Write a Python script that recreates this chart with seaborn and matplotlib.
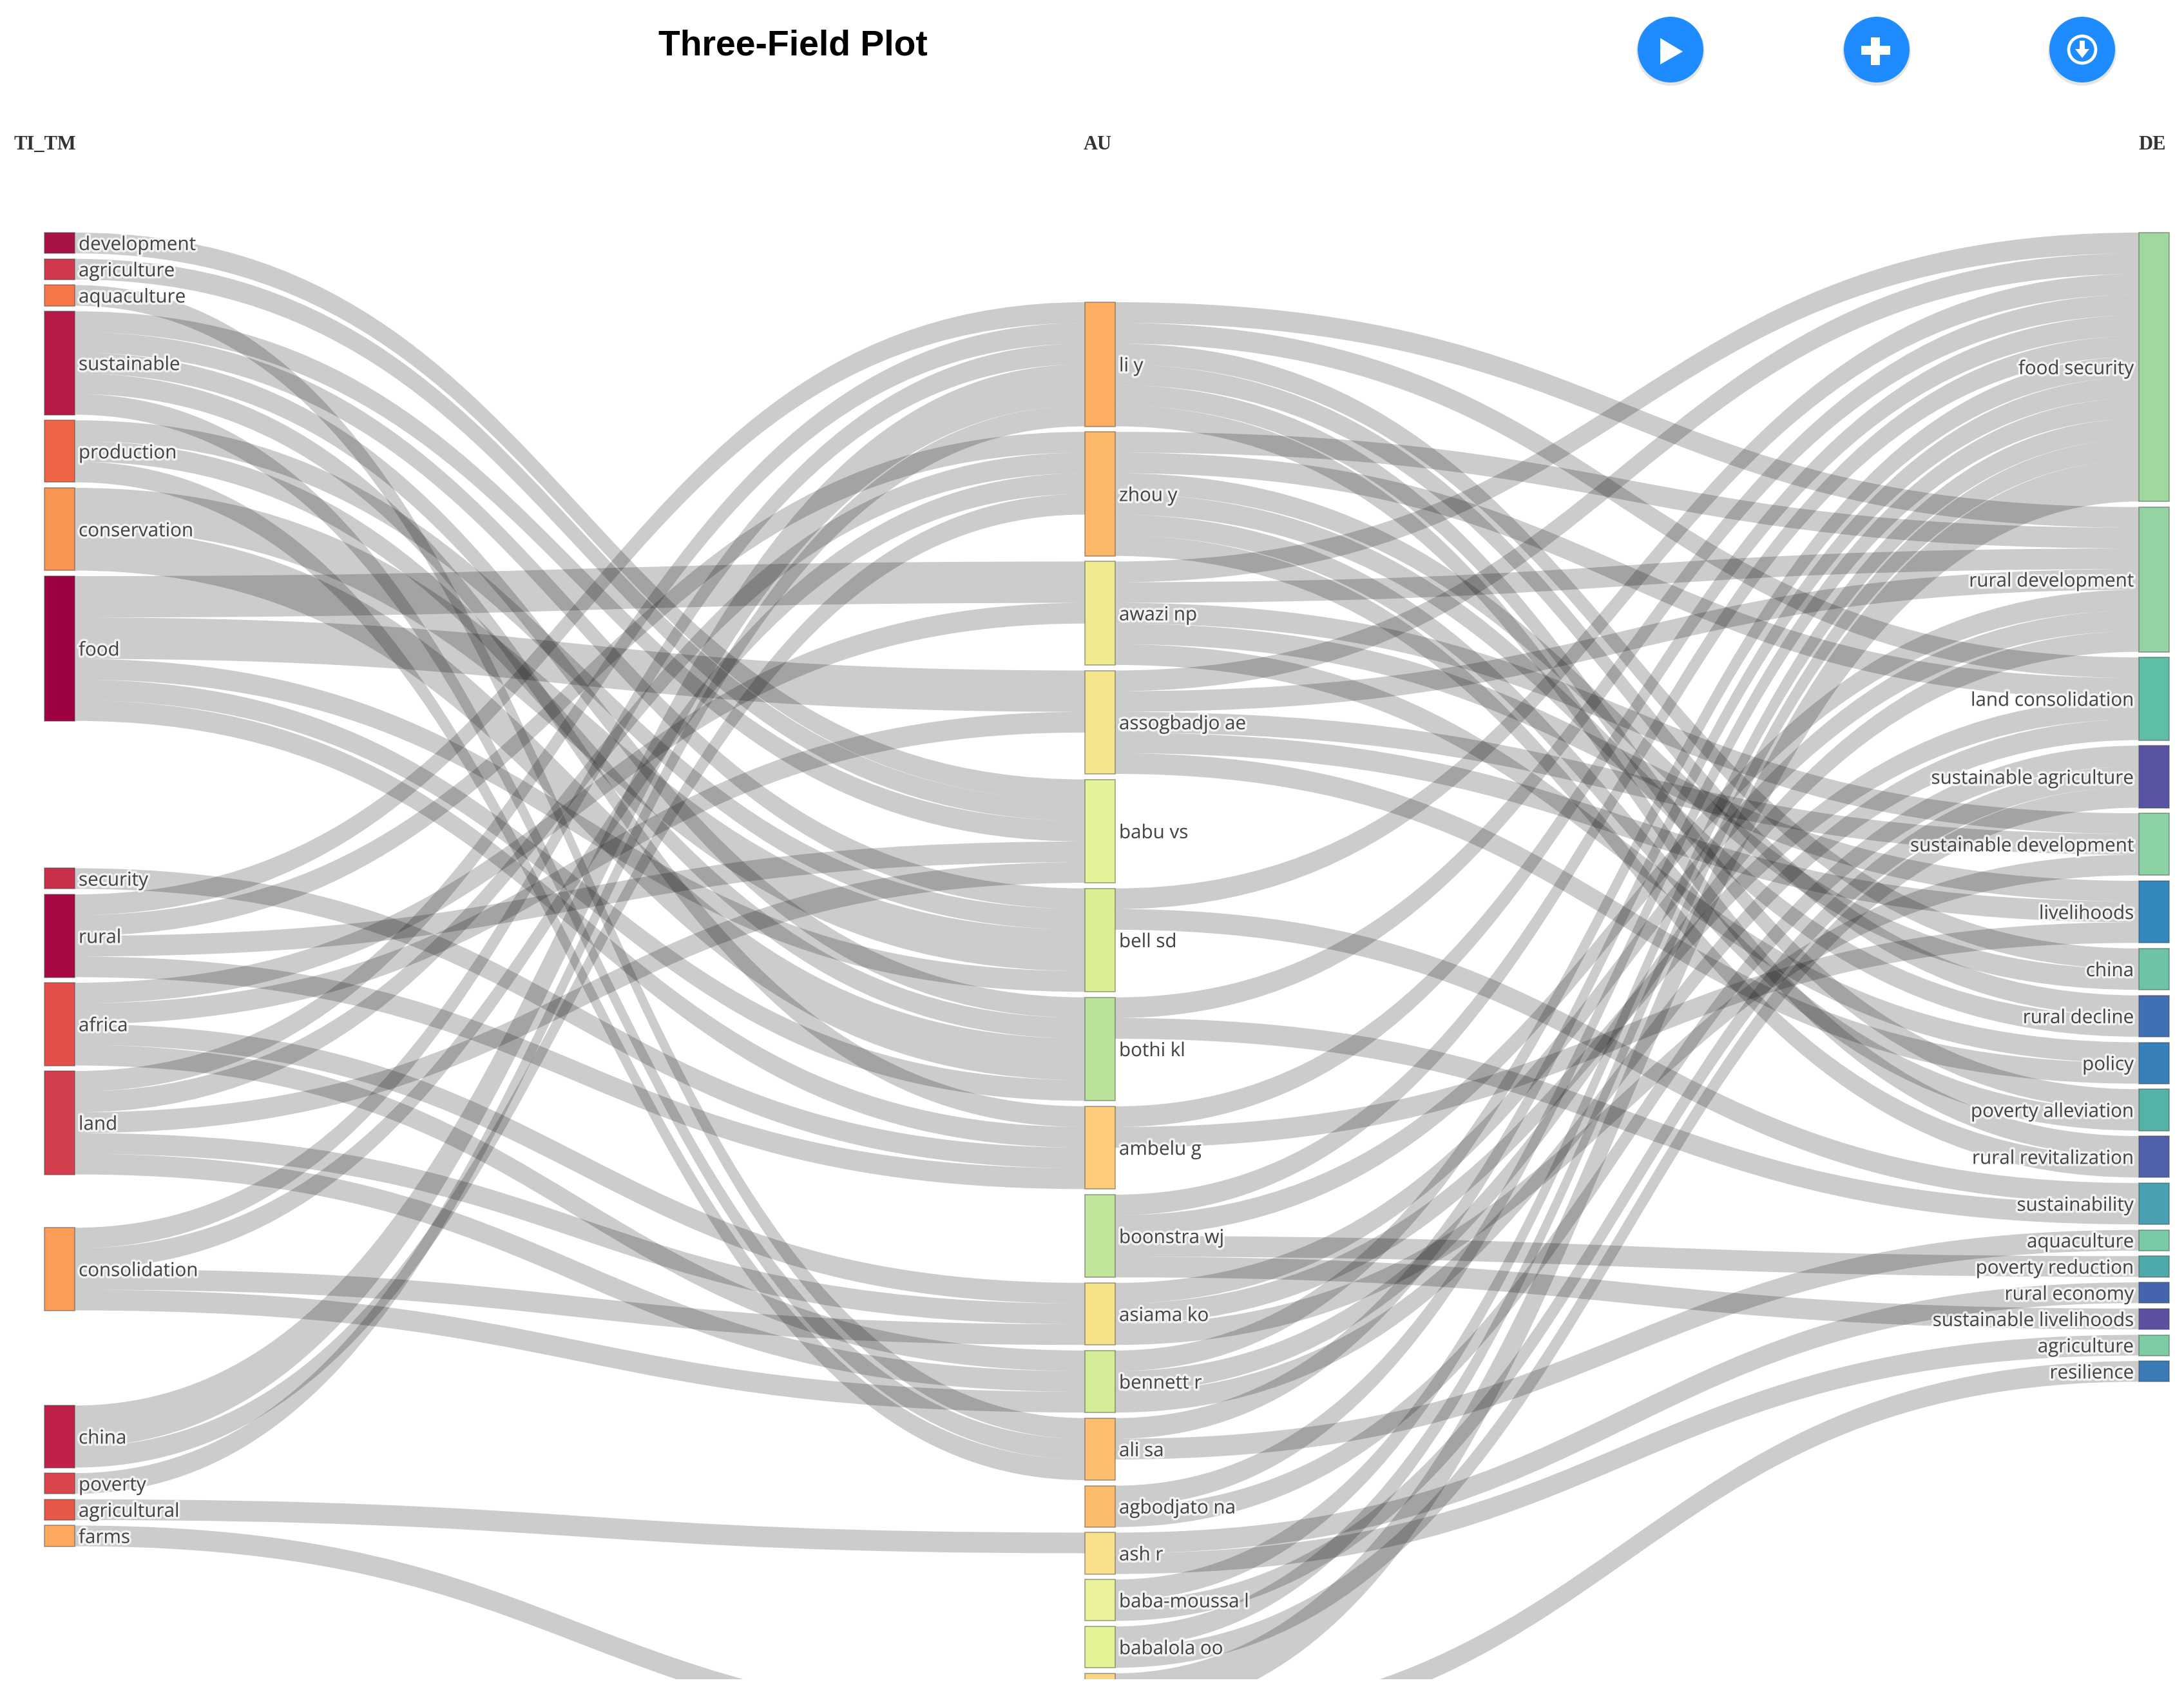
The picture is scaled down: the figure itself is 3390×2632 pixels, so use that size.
"""Three-field plot (TI_TM / AU / DE) redrawn as a sankey with seaborn bars."""

from __future__ import annotations

import matplotlib

matplotlib.use("Agg")
import matplotlib.patheffects as pe
import matplotlib.pyplot as plt
import seaborn as sns
from matplotlib.patches import Circle, PathPatch, Polygon, Rectangle
from matplotlib.path import Path

# ---- nodes: names and size in documents ------------------------------------
TI_TM = ["development", "agriculture", "aquaculture", "sustainable", "production",
         "conservation", "food", "security", "rural", "africa", "land",
         "consolidation", "china", "poverty", "agricultural", "farms"]
TI_TM_UNITS = [1, 1, 1, 5, 3, 4, 7, 1, 4, 4, 5, 4, 3, 1, 1, 1]

AU = ["li y", "zhou y", "awazi np", "assogbadjo ae", "babu vs", "bell sd", "bothi kl",
      "ambelu g", "boonstra wj", "asiama ko", "bennett r", "ali sa", "agbodjato na",
      "ash r", "baba-moussa l", "babalola oo", "au_17", "au_18"]
AU_UNITS = [6, 6, 5, 5, 5, 5, 5, 4, 4, 3, 3, 3, 2, 2, 2, 2, 2, 2]

DE = ["food security", "rural development", "land consolidation",
      "sustainable agriculture", "sustainable development", "livelihoods", "china",
      "rural decline", "policy", "poverty alleviation", "rural revitalization",
      "sustainability", "aquaculture", "poverty reduction", "rural economy",
      "sustainable livelihoods", "agriculture", "resilience"]
DE_UNITS = [13, 7, 4, 3, 3, 3, 2, 2, 2, 2, 2, 2, 1, 1, 1, 1, 1, 1]

# ---- links: keyword -> author ------------------------------------------------
LEFT_SRC = ["development", "agriculture", "aquaculture",
            "sustainable", "sustainable", "sustainable", "sustainable", "sustainable",
            "production", "production", "production",
            "conservation", "conservation",
            "food", "food", "food", "food", "food",
            "security",
            "rural", "rural", "rural", "rural",
            "africa", "africa", "africa", "africa",
            "land", "land", "land", "land", "land",
            "consolidation", "consolidation", "consolidation", "consolidation",
            "china", "china", "poverty", "agricultural", "farms"]
LEFT_DST = ["babu vs", "babu vs", "ali sa",
            "babu vs", "bell sd", "bothi kl", "ambelu g", "ali sa",
            "bell sd", "bothi kl", "ali sa",
            "bell sd", "bothi kl",
            "awazi np", "assogbadjo ae", "bell sd", "bothi kl", "ambelu g",
            "ambelu g",
            "li y", "zhou y", "babu vs", "ambelu g",
            "awazi np", "assogbadjo ae", "asiama ko", "bennett r",
            "li y", "zhou y", "babu vs", "asiama ko", "bennett r",
            "li y", "zhou y", "asiama ko", "bennett r",
            "li y", "zhou y", "li y", "ash r", "au_18"]
LEFT_VAL = [1, 1, 1,
            1, 1, 1, 1, 1,
            1, 1, 1,
            2, 2,
            2, 2, 1, 1, 1,
            1,
            1, 1, 1, 1,
            1, 1, 1, 1,
            1, 1, 1, 1, 1,
            1, 1, 1, 1,
            2, 1, 1, 1, 1]

# ---- links: author -> author keyword -----------------------------------------
RIGHT_SRC = ["li y"] * 6 + ["zhou y"] * 6 + ["awazi np"] * 5 + ["assogbadjo ae"] * 5 \
    + ["bell sd"] * 2 + ["bothi kl"] * 2 + ["ambelu g"] * 2 + ["boonstra wj"] * 4 \
    + ["asiama ko"] * 3 + ["bennett r"] * 3 + ["ali sa"] * 2 + ["agbodjato na"] * 2 \
    + ["ash r"] * 2 + ["baba-moussa l"] * 2 + ["babalola oo"] * 2 + ["au_17"] + ["au_18"]
CN_KEYS = ["rural development", "land consolidation", "china", "rural decline",
           "poverty alleviation", "rural revitalization"]
AFRICA_KEYS = ["food security", "rural development", "sustainable development",
               "livelihoods", "policy"]
RIGHT_DST = CN_KEYS + CN_KEYS + AFRICA_KEYS + AFRICA_KEYS \
    + ["food security", "sustainability"] * 2 \
    + ["food security", "livelihoods"] \
    + ["food security", "rural development", "poverty reduction", "sustainable livelihoods"] \
    + ["rural development", "land consolidation", "sustainable development"] \
    + ["food security", "rural development", "land consolidation"] \
    + ["food security", "aquaculture"] \
    + ["food security", "sustainable agriculture"] \
    + ["rural economy", "agriculture"] \
    + ["food security", "sustainable agriculture"] * 2 \
    + ["food security"] + ["resilience"]
RIGHT_VAL = [1] * (len(RIGHT_SRC) - 2) + [2, 1]

# ---- colours -----------------------------------------------------------------
TI_TM_COLORS = ["#A81246", "#D0384E", "#F57748", "#B61B47", "#EE6445", "#FA9452", "#9E0142",
                "#C92E4B", "#A50843", "#E3504A", "#D43F4F", "#FB9D58", "#BF2148", "#DA464C",
                "#E65748", "#FDA95F"]
AU_COLORS = ["#FDAE61", "#FDB768", "#EFE98F", "#F4E48C", "#E4F397", "#DAEE92", "#B9E29B",
             "#FDCC7A", "#C1E59A", "#F6E389", "#D3EC95", "#FDBE70", "#FDBB6C", "#FBE08B",
             "#EBF09A", "#E3F396", "#FDD485", "#FEE08B"]
DE_COLORS = ["#A0D8A0", "#94D4A4", "#5FBEA6", "#5853A3", "#8CD2A4", "#3288BD", "#6DC4A4",
             "#4070B3", "#3780BA", "#54B3A6", "#5060AA", "#48A0B2", "#78CBA4", "#4EAAAA",
             "#4564AE", "#5E4FA2", "#7ECCA4", "#3A7AB7"]

# ---- layout (pixels of the 3391x2632 canvas) ---------------------------------
WIDTH, HEIGHT = 3391, 2632
CLIP_Y = 2606
UNIT = 32.1
GAP = 8.6
NODE_W = 47
LEFT_X, MID_X, RIGHT_X = 69, 1684, 3320
LEFT_TOP, MID_TOP, RIGHT_TOP = 361, 469, 361
LEFT_EXTRA_GAP = {"security": 220, "consolidation": 74, "china": 139}

sns.set_theme(style="white")
plt.rcParams["font.family"] = ["Open Sans", "DejaVu Sans"]


def stack(names, units, top, extra=None):
    """Top and height of every node in a column."""
    out = {}
    y = top
    for name, n in zip(names, units):
        y += (extra or {}).get(name, 0)
        out[name] = (y, n * UNIT)
        y += n * UNIT + GAP
    return out


def draw_links(ax, src_names, dst_names, src_pos, dst_pos, x0, x1, srcs, dsts, vals):
    src_i = {n: i for i, n in enumerate(src_names)}
    dst_i = {n: i for i, n in enumerate(dst_names)}
    links = list(zip(srcs, dsts, vals))
    s_off = {n: src_pos[n][0] for n in src_names}
    d_off = {n: dst_pos[n][0] for n in dst_names}
    s_y, d_y = {}, {}
    # ribbons leave a node in target order and reach a node in source order
    for link in sorted(links, key=lambda l: (src_i[l[0]], dst_i[l[1]])):
        s_y[link] = s_off[link[0]]
        s_off[link[0]] += link[2] * UNIT
    for link in sorted(links, key=lambda l: (dst_i[l[1]], src_i[l[0]])):
        d_y[link] = d_off[link[1]]
        d_off[link[1]] += link[2] * UNIT
    xm = (x0 + x1) / 2
    for link in links:
        h = link[2] * UNIT
        a, b = s_y[link], d_y[link]
        verts = [(x0, a), (xm, a), (xm, b), (x1, b), (x1, b + h),
                 (xm, b + h), (xm, a + h), (x0, a + h), (x0, a)]
        codes = [Path.MOVETO, Path.CURVE4, Path.CURVE4, Path.CURVE4, Path.LINETO,
                 Path.CURVE4, Path.CURVE4, Path.CURVE4, Path.CLOSEPOLY]
        ax.add_patch(PathPatch(Path(verts, codes), facecolor=(0, 0, 0, 0.2),
                               edgecolor="none", zorder=1))


def draw_nodes(ax, pos, x, colors):
    for (name, (top, h)), color in zip(pos.items(), colors):
        sns.barplot(x=[x + NODE_W / 2], y=[h], bottom=top, width=NODE_W, native_scale=True,
                    color=color, saturation=1, errorbar=None, ax=ax,
                    edgecolor=(0.27, 0.27, 0.27, 0.45), linewidth=1.3, zorder=3)


def draw_labels(ax, pos, x, ha):
    halo = [pe.withStroke(linewidth=5, foreground=(1, 1, 1, 0.75))]
    for name, (top, h) in pos.items():
        if name.startswith("au_"):
            continue
        ax.text(x, top + h / 2, name, ha=ha, va="center_baseline", fontsize=21.3, color="#444444",
                path_effects=halo, zorder=6)


def draw_buttons(ax):
    blue = "#1E8CFF"
    for cx in (2593, 2913, 3232):
        ax.add_patch(Circle((cx, 80), 53, facecolor=(0, 0, 0, 0.10), edgecolor="none", zorder=6))
        ax.add_patch(Circle((cx, 77), 51, facecolor=blue, edgecolor="none", zorder=7))
    ax.add_patch(Polygon([(2577, 59), (2612, 80), (2577, 100)], facecolor="white",
                         edgecolor="none", zorder=8))
    ax.add_patch(Rectangle((2889, 71), 45, 14, facecolor="white", edgecolor="none", zorder=8))
    ax.add_patch(Rectangle((2904, 58), 14, 43, facecolor="white", edgecolor="none", zorder=8))
    ax.add_patch(Circle((3232, 77), 21, facecolor="none", edgecolor="white", linewidth=3.4, zorder=8))
    ax.add_patch(Rectangle((3228, 63), 8, 14, facecolor="white", edgecolor="none", zorder=8))
    ax.add_patch(Polygon([(3221, 76), (3243, 76), (3232, 90)], facecolor="white",
                         edgecolor="none", zorder=8))


def main() -> None:
    fig = plt.figure(figsize=(WIDTH / 100, HEIGHT / 100), dpi=100, facecolor="white")
    ax = fig.add_axes([0, 0, 1, 1])

    left = stack(TI_TM, TI_TM_UNITS, LEFT_TOP, LEFT_EXTRA_GAP)
    mid = stack(AU, AU_UNITS, MID_TOP)
    right = stack(DE, DE_UNITS, RIGHT_TOP)

    draw_links(ax, TI_TM, AU, left, mid, LEFT_X + NODE_W, MID_X, LEFT_SRC, LEFT_DST, LEFT_VAL)
    draw_links(ax, AU, DE, mid, right, MID_X + NODE_W, RIGHT_X, RIGHT_SRC, RIGHT_DST, RIGHT_VAL)

    draw_nodes(ax, left, LEFT_X, TI_TM_COLORS)
    draw_nodes(ax, mid, MID_X, AU_COLORS)
    draw_nodes(ax, right, RIGHT_X, DE_COLORS)

    draw_labels(ax, left, LEFT_X + NODE_W + 6, "left")
    draw_labels(ax, mid, MID_X + NODE_W + 6, "left")
    draw_labels(ax, right, RIGHT_X - 8, "right")

    # the frame of the original widget cuts the lower nodes off
    ax.add_patch(Rectangle((0, CLIP_Y), WIDTH, HEIGHT - CLIP_Y, facecolor="white",
                           edgecolor="none", zorder=5))

    ax.text(1231, 72, "Three-Field Plot", ha="center", va="center", fontsize=39.8, fontweight="bold",
            family="Liberation Sans", color="black", zorder=6)
    for x, name in ((LEFT_X - 47, "TI_TM"), (MID_X - 2, "AU"), (RIGHT_X - 1, "DE")):
        ax.text(x, 225, name, ha="left", va="center", fontsize=22, fontweight="bold",
                family="Liberation Serif", color="#333333", zorder=6)
    draw_buttons(ax)

    ax.set_xlim(0, WIDTH)
    ax.set_ylim(HEIGHT, 0)
    ax.set_xlabel("")
    ax.set_ylabel("")
    ax.axis("off")
    fig.savefig("out.png", dpi=100, facecolor="white")
    plt.close(fig)


if __name__ == "__main__":
    main()
